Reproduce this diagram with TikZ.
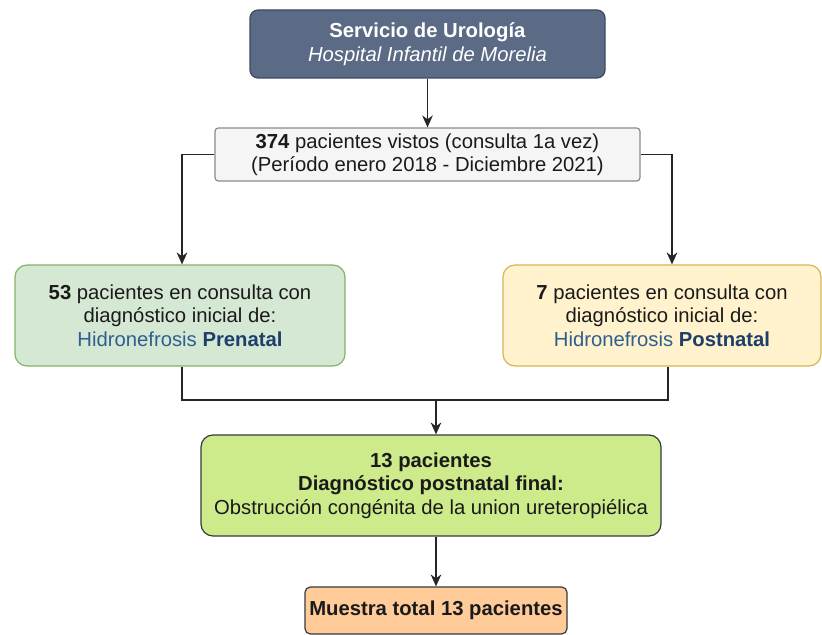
\documentclass[tikz,border=0pt]{standalone}
\usepackage{fontspec}
\setmainfont{Liberation Sans}
\usetikzlibrary{arrows.meta,calc}
\definecolor{slatef}{HTML}{5B6B85}
\definecolor{slated}{HTML}{3A4A60}
\definecolor{grayf}{HTML}{F5F5F5}
\definecolor{grayd}{HTML}{8A8A8A}
\definecolor{greenf}{HTML}{D5E8D4}
\definecolor{greend}{HTML}{82B366}
\definecolor{yellf}{HTML}{FFF2CC}
\definecolor{yelld}{HTML}{D6B656}
\definecolor{limef}{HTML}{CDEB8B}
\definecolor{darkd}{HTML}{36393D}
\definecolor{orangef}{HTML}{FFCC99}
\definecolor{txt}{HTML}{1A1A1A}
\definecolor{blueA}{HTML}{2E5F8F}
\definecolor{blueB}{HTML}{1F3F6B}
\tikzset{
  box/.style={draw, line width=0.9pt, align=center, text=txt, inner sep=0pt,
    font=\fontsize{15.2}{17.6}\selectfont},
  conn/.style={line width=1.1pt, draw=black!85},
  arr/.style={conn, -{Stealth[length=9pt,width=8pt]}}
}
\begin{document}
\begin{tikzpicture}[x=0.75pt,y=-0.75pt]
\useasboundingbox (0,0) rectangle (822,635);
\clip (0,0) rectangle (822,635);
\node[box, fill=slatef, draw=slated, rounded corners=6pt, text=white,
  minimum width=355*0.75pt, minimum height=68*0.75pt] (top) at (427.5,44)
  {\textbf{Servicio de Urología}\\\textit{Hospital Infantil de Morelia}};
\node[box, fill=grayf, draw=grayd, rounded corners=2.5pt,
  minimum width=425*0.75pt, minimum height=53*0.75pt] (b2) at (427.5,154.5)
  {\textbf{374} pacientes vistos (consulta 1a vez)\\(Período enero 2018 - Diciembre 2021)};
\node[box, fill=greenf, draw=greend, rounded corners=9pt,
  minimum width=330*0.75pt, minimum height=101*0.75pt] (b3) at (180,315.5)
  {\textbf{53} pacientes en consulta con\\diagnóstico inicial de:\\{\color{blueA}Hidronefrosis} {\color{blueB}\textbf{Prenatal}}};
\node[box, fill=yellf, draw=yelld, rounded corners=9pt,
  minimum width=318*0.75pt, minimum height=101*0.75pt] (b4) at (662,315.5)
  {\textbf{7} pacientes en consulta con\\diagnóstico inicial de:\\{\color{blueA}Hidronefrosis} {\color{blueB}\textbf{Postnatal}}};
\node[box, fill=limef, draw=darkd, rounded corners=9pt,
  minimum width=460*0.75pt, minimum height=101*0.75pt] (b5) at (431,485.5)
  {\textbf{13 pacientes}\\\textbf{Diagnóstico postnatal final:}\\Obstrucción congénita de la union ureteropiélica};
\node[box, fill=orangef, draw=darkd, rounded corners=4pt,
  minimum width=262*0.75pt, minimum height=47*0.75pt] (b6) at (436,610.5)
  {\textbf{Muestra total 13 pacientes}};
\coordinate (j) at (436,400);
\draw[arr] (top.south) -- (b2.north);
\draw[arr] (b2.west) -| ($(b3.north)+(2,0)$);
\draw[arr] (b2.east) -| ($(b4.north)+(10,0)$);
\draw[conn] ($(b3.south)+(2,0)$) |- (j);
\draw[conn] ($(b4.south)+(6,0)$) |- (j);
\draw[arr] (j) -- (j |- b5.north);
\draw[arr] (b5.south -| j) -- (b6.north);
\end{tikzpicture}
\end{document}
